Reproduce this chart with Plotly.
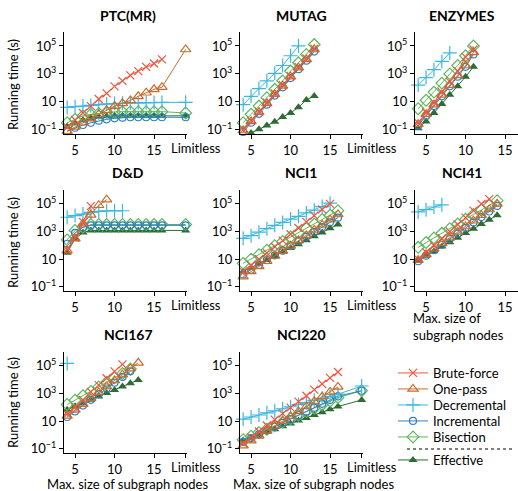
import plotly.graph_objects as go

W, H = 518, 491

SERIES = ["Brute-force", "One-pass", "Decremental", "Incremental", "Bisection", "Effective"]
COLORS = ["#f0553f", "#c86c2a", "#3cb8e0", "#2f7fc1", "#5cb85c", "#2e6b35"]
SYMBOLS = ["x-thin", "triangle-up-open", "cross-thin", "circle-open", "diamond-open", "triangle-up"]
SIZES = [8, 9, 10, 7, 9, 8]
DRAW_ORDER = ["Effective", "Bisection", "Incremental", "Decremental", "One-pass", "Brute-force"]

X_TICKVALS = [5, 10, 15, 19]
X_TICKTEXT = ["5", "10", "15", ""]
LIMITLESS_X = 19
LIMITLESS_LABEL = "Limitless"
Y_TICKVALS = [0.1, 10, 1000, 100000]
Y_TICKTEXT = ["10<sup>\u22121</sup>", "10", "10<sup>3</sup>", "10<sup>5</sup>"]

# ---- PTC(MR) ----
X_PTC = [4, 5, 6, 7, 8, 9, 10, 11, 12, 13, 14, 15, 16, 19]
PTC_BRUTE = [0.16, 0.5, 1.6, 5, 16, 40, 130, 320, 790, 1600, 3200, 5600, 11000, None]
PTC_ONEPASS = [0.079, 0.16, 0.32, 0.63, 1.3, 2.5, 5, 7.9, 12.6, 25, 45, 79, 112, 56000]
PTC_DECR = [4.0, 4.5, 5.0, 5.6, 6.3, 7.1, 7.6, 7.9, 8.3, 8.5, 8.7, 8.9, 9.1, 9.3]
PTC_INCR = [0.079, 0.14, 0.22, 0.32, 0.45, 0.56, 0.66, 0.74, 0.79, 0.79, 0.79, 0.79, 0.79, 0.79]
PTC_BISEC = [0.32, 0.56, 1.0, 1.26, 1.5, 1.8, 1.9, 2.0, 2.0, 2.0, 2.0, 2.0, 2.0, 1.6]
PTC_EFFECT = [0.17, 0.3, 0.5, 0.66, 0.87, 0.95, 1, 1, 1, 1, 1, 1, 1, 1]

# ---- MUTAG ----
X_MUTAG = [4, 5, 6, 7, 8, 9, 10, 11, 12, 13]
MUTAG_BRUTE = [0.1, 0.45, 2, 8.9, 40, 160, 710, 3200, 12600, 63000]
MUTAG_ONEPASS = [0.089, 0.4, 1.8, 7.9, 35, 140, 630, 2800, 11000, 56000]
MUTAG_DECR = [6.3, 25, 89, 320, 1100, 4000, 20000, 100000, None, None]
MUTAG_INCR = [0.071, 0.32, 1.4, 6.3, 28, 110, 500, 2200, 8900, 40000]
MUTAG_BISEC = [0.32, 1.3, 5, 20, 79, 320, 1600, 6300, 25000, 126000]
MUTAG_EFFECT = [0.034, 0.058, 0.11, 0.2, 0.37, 0.83, 1.6, 4.1, 13.8, 26]

# ---- ENZYMES ----
X_ENZ = [4, 5, 6, 7, 8, 9, 10, 11]
ENZ_BRUTE = [0.32, 1.8, 8.9, 50, 280, 1600, 16000, 56000]
ENZ_ONEPASS = [0.25, 1.3, 6.3, 32, 160, 790, 4000, 35000]
ENZ_DECR = [160, 550, 2000, 7900, 32000, None, None, None]
ENZ_INCR = [0.2, 1, 5, 25, 130, 630, 3200, 25000]
ENZ_BISEC = [3.2, 13, 50, 220, 1000, 4000, 20000, 100000]
ENZ_EFFECT = [0.13, 0.4, 1.6, 7.1, 32, 130, 630, 3200]

# ---- D&D ----
X_DD = [4, 5, 6, 7, 8, 9, 10, 11, 12, 13, 14, 15, 16, 19]
DD_BRUTE = [50, 350, 5000, 69000, None, None, None, None, None, None, None, None, None, None]
DD_ONEPASS = [42, 300, 3700, 16000, 79000, 200000, None, None, None, None, None, None, None, None]
DD_DECR = [10700, 14100, 18200, 24000, 28200, 31600, 31600, 31600, None, None, None, None, None, None]
DD_INCR = [130, 790, 2000, 2800, 2800, 2800, 2800, 2800, 2800, 2800, 2800, 2800, 2800, 2800]
DD_BISEC = [250, 1200, 2000, 3200, 3200, 3200, 3200, 3200, 3200, 3200, 3200, 3200, 3200, 3200]
DD_EFFECT = [29, 300, 850, 1200, 1200, 1200, 1200, 1200, 1200, 1200, 1200, 1200, 1200, 1200]

# ---- NCI1 ----
X_NCI1 = [4, 5, 6, 7, 8, 9, 10, 11, 12, 13, 14, 15, 16]
NCI1_BRUTE = [1.3, 3.5, 10, 28, 79, 220, 630, 1800, 5000, 14000, 40000, 100000, None]
NCI1_ONEPASS = [0.54, 1.3, 3, 7.1, 17, 40, 93, 220, 520, 1300, 3000, 7100, 17000]
NCI1_DECR = [320, 500, 890, 1600, 2800, 4500, 7900, 12600, 22000, 35000, 63000, 112000, None]
NCI1_INCR = [0.79, 1.7, 3.8, 8.5, 19, 41, 89, 200, 430, 950, 2100, 4600, 10000]
NCI1_BISEC = [5, 10, 21, 45, 93, 190, 400, 830, 1700, 3500, 7400, 15000, 32000]
NCI1_EFFECT = [1.3, 2.4, 4.7, 8.9, 17, 33, 63, 120, 230, 450, 850, 1700, 3200]

# ---- NCI41 ----
X_NCI41 = [4, 5, 6, 7, 8, 9, 10, 11, 12, 13, 14]
NCI41_BRUTE = [10, 32, 100, 320, 1000, 3200, 10000, 32000, 100000, 220000, None]
NCI41_ONEPASS = [8.5, 22, 55, 140, 360, 930, 2300, 6000, 15000, 39000, 100000]
NCI41_DECR = [26000, 38000, 59000, 85000, None, None, None, None, None, None, None]
NCI41_INCR = [7.1, 18, 45, 110, 280, 710, 1800, 4500, 11000, 28000, 71000]
NCI41_BISEC = [72, 160, 340, 740, 1600, 3500, 7600, 17000, 36000, 78000, 170000]
NCI41_EFFECT = [8.5, 18, 38, 81, 170, 360, 780, 1600, 3500, 7200, 15000]

# ---- NCI167 ----
X_NCI167 = [4, 5, 6, 7, 8, 9, 10, 11, 12, 13]
NCI167_BRUTE = [32, 100, 350, 1300, 4000, 12600, 40000, 126000, None, None]
NCI167_ONEPASS = [24, 65, 170, 460, 1200, 3200, 8700, 23000, 62000, 166000]
NCI167_DECR = [150000, None, None, None, None, None, None, None, None, None]
NCI167_INCR = [20, 51, 135, 350, 890, 2300, 6000, 15500, 40000, None]
NCI167_BISEC = [160, 330, 690, 1400, 3000, 6500, 13500, 28000, 59000, None]
NCI167_EFFECT = [68, 120, 200, 350, 620, 1070, 1800, 3200, 5500, 9500]

# ---- NCI220 ----
X_NCI220 = [4, 5, 6, 7, 8, 9, 10, 11, 12, 13, 14, 15, 16, 19]
NCI220_BRUTE = [0.25, 0.68, 1.8, 4.9, 13, 35, 95, 260, 690, 1900, 5000, 13500, 36000, None]
NCI220_ONEPASS = [0.17, 0.39, 0.87, 2, 4.5, 10, 23, 51, 115, 260, 590, 1300, 3000, None]
NCI220_DECR = [14, 20, 28, 40, 56, 79, 110, 160, 220, 320, 450, 630, 890, 3500]
NCI220_INCR = [0.32, 0.59, 1.1, 2.1, 4, 7.6, 14, 27, 50, 95, 180, 340, 630, 1600]
NCI220_BISEC = [0.46, 0.81, 1.5, 2.6, 4.7, 8.5, 15, 27, 49, 87, 155, 280, 500, 1600]
NCI220_EFFECT = [0.4, 0.63, 1.0, 1.7, 2.6, 4.3, 6.8, 11, 17, 28, 45, 72, 115, 340]

PANELS = [
    ("PTC(MR)", 0, 0, X_PTC, [PTC_BRUTE, PTC_ONEPASS, PTC_DECR, PTC_INCR, PTC_BISEC, PTC_EFFECT]),
    ("MUTAG", 1, 0, X_MUTAG, [MUTAG_BRUTE, MUTAG_ONEPASS, MUTAG_DECR, MUTAG_INCR, MUTAG_BISEC, MUTAG_EFFECT]),
    ("ENZYMES", 2, 0, X_ENZ, [ENZ_BRUTE, ENZ_ONEPASS, ENZ_DECR, ENZ_INCR, ENZ_BISEC, ENZ_EFFECT]),
    ("D&D", 0, 1, X_DD, [DD_BRUTE, DD_ONEPASS, DD_DECR, DD_INCR, DD_BISEC, DD_EFFECT]),
    ("NCI1", 1, 1, X_NCI1, [NCI1_BRUTE, NCI1_ONEPASS, NCI1_DECR, NCI1_INCR, NCI1_BISEC, NCI1_EFFECT]),
    ("NCI41", 2, 1, X_NCI41, [NCI41_BRUTE, NCI41_ONEPASS, NCI41_DECR, NCI41_INCR, NCI41_BISEC, NCI41_EFFECT]),
    ("NCI167", 0, 2, X_NCI167, [NCI167_BRUTE, NCI167_ONEPASS, NCI167_DECR, NCI167_INCR, NCI167_BISEC, NCI167_EFFECT]),
    ("NCI220", 1, 2, X_NCI220, [NCI220_BRUTE, NCI220_ONEPASS, NCI220_DECR, NCI220_INCR, NCI220_BISEC, NCI220_EFFECT]),
]

# layout geometry in pixels
COL_PX = [(64, 187), (240, 363), (415, 518)]
ROW_PX = [(32, 134), (190, 291), (352, 453)]
TITLE_X = [128, 301, 462]
TITLE_Y = [15, 173, 334]
LEGEND_ROW_PX = [373, 389, 405, 421, 437, 460]
LEGEND_LEFT_PX = 393
PX_PER_UNIT = 7.9
Y_RANGE_LOG = [-1.3, 6.0]
FONT = "Lato, 'Open Sans', sans-serif"


def px_x(p):
    return p / W


def px_y(p):
    return 1 - p / H


fig = go.Figure()
layout = dict(
    width=W, height=H, margin=dict(l=0, r=0, t=0, b=0, autoexpand=False),
    paper_bgcolor="white", plot_bgcolor="white",
    font=dict(family=FONT, size=13, color="black"),
)
annotations = []

for i, (title, c, r, xs, ys_list) in enumerate(PANELS):
    k = "" if i == 0 else str(i + 1)
    x0, x1 = COL_PX[c]
    y0, y1 = ROW_PX[r]
    xr = [3.6, 3.6 + (x1 - x0) / PX_PER_UNIT]
    layout["xaxis" + k] = dict(
        domain=[px_x(x0), px_x(x1)], anchor="y" + k, range=xr,
        tickvals=X_TICKVALS, ticktext=X_TICKTEXT, ticks="outside", ticklen=4,
        tickcolor="black", showline=True, linecolor="black", linewidth=1,
        showgrid=False, zeroline=False, tickfont=dict(size=13), tickangle=0,
    )
    layout["yaxis" + k] = dict(
        domain=[px_y(y1), px_y(y0)], anchor="x" + k, type="log", range=Y_RANGE_LOG,
        tickvals=Y_TICKVALS, ticktext=Y_TICKTEXT, ticks="outside", ticklen=4,
        tickcolor="black", showline=True, linecolor="black", linewidth=1,
        showgrid=False, zeroline=False, tickfont=dict(size=13),
    )
    annotations.append(dict(
        text="<b>%s</b>" % title, x=px_x(TITLE_X[c]), y=px_y(TITLE_Y[r]),
        xref="paper", yref="paper", showarrow=False, font=dict(size=14),
        xanchor="center", yanchor="middle"))
    if xr[1] >= LIMITLESS_X:
        # the "Limitless" tick label sits slightly right of its tick, as in the reference
        annotations.append(dict(
            text=LIMITLESS_LABEL, x=LIMITLESS_X, xref="x" + k, xshift=10,
            y=px_y(y1 + 14), yref="paper", showarrow=False, font=dict(size=13),
            xanchor="center", yanchor="middle"))
    for name in DRAW_ORDER:
        j = SERIES.index(name)
        filled = SYMBOLS[j] == "triangle-up"
        fig.add_trace(go.Scatter(
            x=xs, y=ys_list[j], mode="lines+markers", name=name,
            xaxis="x" + k, yaxis="y" + k, cliponaxis=False,
            line=dict(color=COLORS[j], width=1),
            marker=dict(symbol=SYMBOLS[j], size=SIZES[j], color=COLORS[j],
                        line=dict(color=COLORS[j], width=1.2 if not filled else 0)),
            showlegend=(i == 0),
            legend="legend" if j == 0 else "legend%d" % (j + 1),
        ))

# one legend box per series, stacked at the reference's spacing
for j in range(len(SERIES)):
    key = "legend" if j == 0 else "legend%d" % (j + 1)
    layout[key] = dict(
        x=px_x(LEGEND_LEFT_PX), y=px_y(LEGEND_ROW_PX[j]), xanchor="left", yanchor="middle",
        font=dict(size=13), bgcolor="rgba(0,0,0,0)", itemwidth=30,
    )

# y-axis labels
for r in range(3):
    yc = [85, 243, 403][r]
    annotations.append(dict(
        text="Running time (s)", x=px_x(13), y=px_y(yc), xref="paper", yref="paper",
        showarrow=False, textangle=-90, font=dict(size=13),
        xanchor="center", yanchor="middle"))

# x-axis labels
annotations.append(dict(text="Max. size of subgraph nodes", x=px_x(127), y=px_y(484),
                        xref="paper", yref="paper", showarrow=False, font=dict(size=13),
                        xanchor="center", yanchor="middle"))
annotations.append(dict(text="Max. size of subgraph nodes", x=px_x(313), y=px_y(484),
                        xref="paper", yref="paper", showarrow=False, font=dict(size=13),
                        xanchor="center", yanchor="middle"))
annotations.append(dict(text="Max. size of<br>subgraph nodes", x=px_x(411), y=px_y(326),
                        xref="paper", yref="paper", showarrow=False, font=dict(size=13),
                        xanchor="left", yanchor="middle", align="left"))

layout["annotations"] = annotations
layout["shapes"] = [dict(type="line", xref="paper", yref="paper",
                         x0=px_x(407), x1=px_x(513), y0=px_y(449), y1=px_y(449),
                         line=dict(color="black", width=1, dash="dot"))]
fig.update_layout(**layout)
fig.write_html("out.html", config={"displayModeBar": False},
               post_script="document.body.style.margin='0';document.body.style.overflow='hidden';")
